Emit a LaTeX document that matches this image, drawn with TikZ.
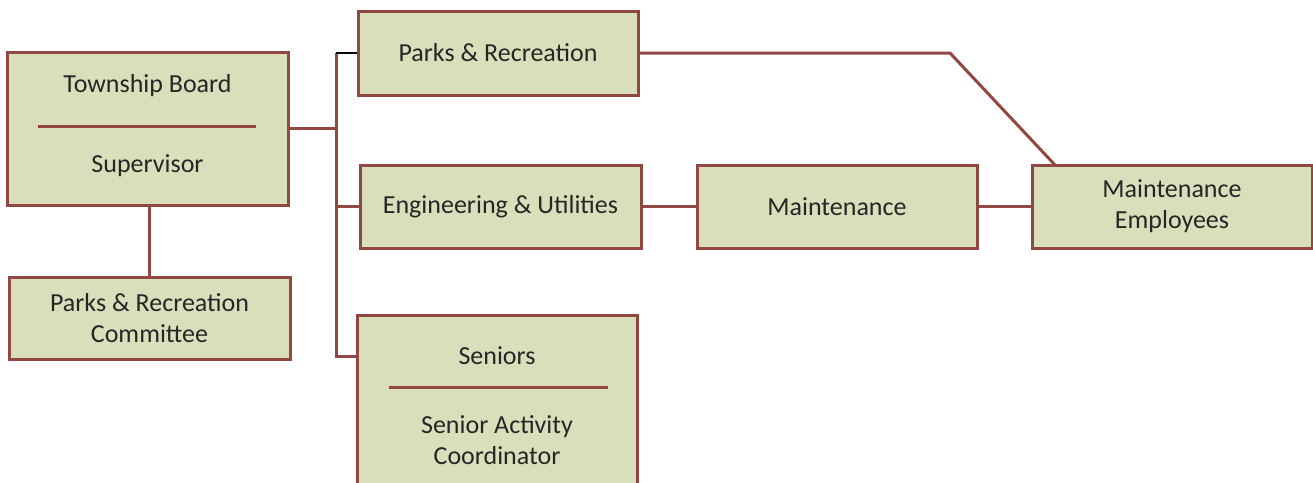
\documentclass[tikz,border=0pt]{standalone}
\usepackage{fontspec}
\setmainfont{Carlito}
\definecolor{boxfill}{RGB}{217,223,187}
\definecolor{boxline}{RGB}{146,72,66}
\tikzset{
	unit/.style={draw=boxline, fill=boxfill, line width=3pt, inner sep=0pt, align=center},
	link/.style={draw=boxline, line width=3pt},
}
\begin{document}
\begin{tikzpicture}[x=1pt, y=-1pt, font=\fontsize{26}{31}\selectfont, text=black!85]
	\useasboundingbox (0,0) rectangle (1313,482);
	\clip (0,0) rectangle (1313,482);
	\path
	(336,53) coordinate (bt)
	(336,356) coordinate (bb)
	(950,53) coordinate (bend)
	(1055,165) coordinate (drop)
	;
	% boxes
	\node[unit, minimum width=281pt, minimum height=153pt] (TB) at (147.5,128.5) {};
	\node[unit, minimum width=281pt, minimum height=82pt] (PRC) at (149.5,318) {Parks \& Recreation\\Committee};
	\node[unit, minimum width=280pt, minimum height=84pt] (PR) at (498,53) {Parks \& Recreation};
	\node[unit, minimum width=281pt, minimum height=83pt] (EU) at (500.5,206.5) {Engineering \& Utilities};
	\node[unit, minimum width=280pt, minimum height=190pt] (SN) at (497,410) {};
	\node[unit, minimum width=280pt, minimum height=83pt] (MT) at (837,206.5) {Maintenance};
	\node[unit, minimum width=280pt, minimum height=83pt] (ME) at (1172,206.5) {Maintenance\\Employees};
	% split boxes
	\node (TBtop) at (147.5,86) {Township Board};
	\node (TBbot) at (147.5,166) {Supervisor};
	\draw[link] (38,126) -- (256,126);
	\node (SNtop) at (497,356) {Seniors};
	\node[align=center] (SNbot) at (497,440) {Senior Activity\\Coordinator};
	\draw[link] (389,387) -- (608,387);
	% connectors
	\draw[link] (TB.east) -- (TB.east -| bt);
	\draw[link] (bt) -- (bb) -- (SN.west |- bb);
	\draw[black, line width=2pt] (bt) -- (PR.west);
	\draw[link] (EU.west -| bt) -- (EU.west);
	\draw[link] (TB.south -| PRC.north) -- (PRC.north);
	\draw[link] (PR.east) -- (bend) -- (drop);
	\draw[link] (EU.east) -- (MT.west);
	\draw[link] (MT.east) -- (ME.west);
\end{tikzpicture}
\end{document}
